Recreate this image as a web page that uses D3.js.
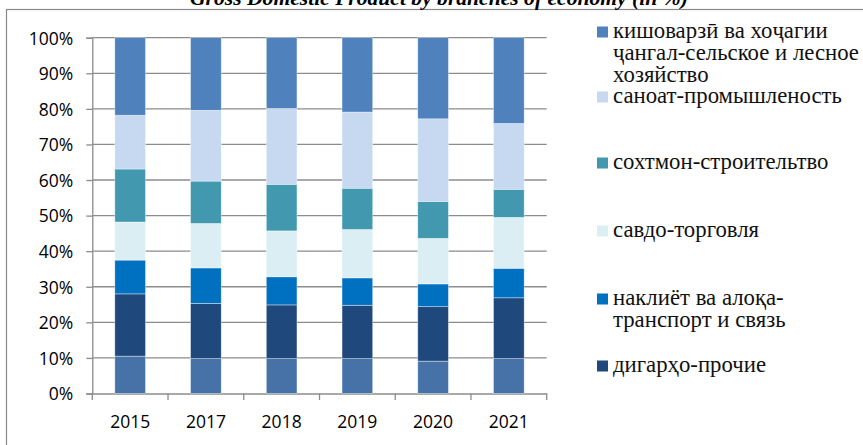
<!DOCTYPE html>
<html><head><meta charset="utf-8">
<script src="https://cdn.jsdelivr.net/npm/d3@7"></script>
<style>
html,body{margin:0;padding:0;background:#fff;}
svg{display:block;}
</style></head>
<body>
<svg id="chart" width="863" height="445"></svg>
<script>
// ---- data ----
const years = ["2015", "2017", "2018", "2019", "2020", "2021"];
// stacked bottom -> top
const seriesNames = [
  "другие",
  "дигарҳо-прочие",
  "наклиёт ва алоқа-транспорт и связь",
  "савдо-торговля",
  "сохтмон-строительтво",
  "саноат-промышленость",
  "кишоварзӣ ва хоҷагии ҷангал-сельское и лесное хозяйство"
];
const seriesColors = ["#4672A8", "#1F497D", "#0070C0", "#DBEEF4", "#4198AF", "#C6D9F1", "#4F81BD"];
const valOther     = [10.5,  9.8,  9.8,  9.8,  9.1,  9.8];
const valProchie   = [17.5, 15.5, 15.1, 15.0, 15.3, 17.1];
const valTransport = [ 9.5, 10.0,  7.9,  7.7,  6.4,  8.3];
const valTrade     = [10.7, 12.5, 12.9, 13.6, 12.8, 14.3];
const valBuild     = [14.9, 11.9, 13.1, 11.6, 10.4,  7.9];
const valIndustry  = [15.1, 19.9, 21.3, 21.4, 23.2, 18.5];
const valAgri      = [21.8, 20.4, 19.9, 20.9, 22.8, 24.1];
const yTicks = [0, 0.1, 0.2, 0.3, 0.4, 0.5, 0.6, 0.7, 0.8, 0.9, 1.0];
const titleText = "Gross Domestic Product by branches of economy (in %)";
// legend entries (top -> bottom), each with its wrapped lines
const legendLines = [
  ["кишоварзӣ ва хоҷагии", "ҷангал-сельское и лесное", "хозяйство"],
  ["саноат-промышленость"],
  ["сохтмон-строительтво"],
  ["савдо-торговля"],
  ["наклиёт ва алоқа-", "транспорт и связь"],
  ["дигарҳо-прочие"]
];
const legendSeriesIdx = [6, 5, 4, 3, 2, 1];

// ---- build ----
const allVals = [valOther, valProchie, valTransport, valTrade, valBuild, valIndustry, valAgri];
const table = years.map((y, i) => {
  const row = {year: y};
  let tot = 0;
  allVals.forEach(a => tot += a[i]);
  allVals.forEach((a, k) => row["s" + k] = a[i] / tot);
  return row;
});
const keys = allVals.map((a, k) => "s" + k);
const stack = d3.stack().keys(keys)(table);

const svg = d3.select("#chart");
const plotL = 92.3, plotR = 546.7, plotT = 37.7, plotB = 393.5;
const serifFam = '"Liberation Serif", "Times New Roman", serif';
const sansFam = '"Open Sans", "Liberation Sans", sans-serif';

// outer frame (cut off at right and bottom)
svg.append("rect").attr("x", 6.5).attr("y", 9.5).attr("width", 900).attr("height", 500)
  .attr("fill", "none").attr("stroke", "#8a8a8a").attr("stroke-width", 1.2);

const x = d3.scaleBand().domain(years).range([plotL, plotR]).padding(0);
const y = d3.scaleLinear().domain([0, 1]).range([plotB, plotT]);
const barW = x.bandwidth() * 0.405;

// gridlines
svg.append("g").selectAll("line").data(yTicks.slice(1)).join("line")
  .attr("x1", plotL).attr("x2", plotR)
  .attr("y1", d => y(d)).attr("y2", d => y(d))
  .attr("stroke", "#8c8c8c").attr("stroke-width", 1.3);

// y axis
const yAxis = d3.axisLeft(y).tickValues(yTicks).tickFormat(d3.format(".0%")).tickSize(6).tickPadding(13);
const gy = svg.append("g").attr("transform", `translate(${plotL},0)`).call(yAxis);
gy.select(".domain").attr("stroke", "#8c8c8c").attr("stroke-width", 1.3);
gy.selectAll(".tick line").attr("stroke", "#8c8c8c").attr("stroke-width", 1.3);
gy.selectAll(".tick text").style("font-family", sansFam).style("font-size", "17.5px")
  .attr("fill", "#000").attr("dy", "0.36em");

// x axis
const xAxis = d3.axisBottom(x).tickSize(0).tickPadding(22);
const gx = svg.append("g").attr("transform", `translate(0,${plotB})`).call(xAxis);
gx.select(".domain").attr("stroke", "#8c8c8c").attr("stroke-width", 1.3);
gx.selectAll(".tick text").style("font-family", sansFam).style("font-size", "17.5px")
  .attr("fill", "#000");
// category boundary ticks
const bounds = years.map(d => x(d)).concat([x(years[years.length - 1]) + x.bandwidth()]);
gx.append("g").selectAll("line").data(bounds).join("line")
  .attr("x1", d => d).attr("x2", d => d).attr("y1", 0).attr("y2", 6.5)
  .attr("stroke", "#8c8c8c").attr("stroke-width", 1.3);

// bars
svg.append("g").selectAll("g").data(stack).join("g")
  .attr("fill", (d, i) => seriesColors[i])
  .selectAll("rect").data(d => d).join("rect")
  .attr("x", d => x(d.data.year) + (x.bandwidth() - barW) / 2)
  .attr("width", barW)
  .attr("y", d => y(d[1]))
  .attr("height", d => y(d[0]) - y(d[1]))
  .attr("stroke", "rgba(255,255,255,0.55)").attr("stroke-width", 0.7);

// title (partly cut off at top)
const title = svg.append("text").text(titleText)
  .style("font-family", serifFam)
  .style("font-weight", "bold").style("font-style", "italic")
  .style("font-size", "100px").attr("fill", "#000");
const tw = title.node().getComputedTextLength();
title.style("font-size", (100 * 498 / tw) + "px").attr("x", 190).attr("y", 5);

// legend
const lg = svg.append("g");
const probe = lg.append("text").text("саноат-промышленость")
  .style("font-family", serifFam).style("font-size", "100px");
const lfs = 100 * 229 / probe.node().getComputedTextLength();
probe.remove();
const entryBase = [38, 103, 169, 237, 305, 372];
const lineH = 22;
legendLines.forEach((lines, i) => {
  const b = entryBase[i];
  lg.append("rect").attr("x", 597).attr("y", b - 11.5).attr("width", 11).attr("height", 11)
    .attr("fill", seriesColors[legendSeriesIdx[i]]);
  lines.forEach((t, j) => {
    lg.append("text").text(t).attr("x", 613).attr("y", b + j * lineH)
      .style("font-family", serifFam)
      .style("font-size", lfs + "px").attr("fill", "#111");
  });
});
</script>
</body></html>
